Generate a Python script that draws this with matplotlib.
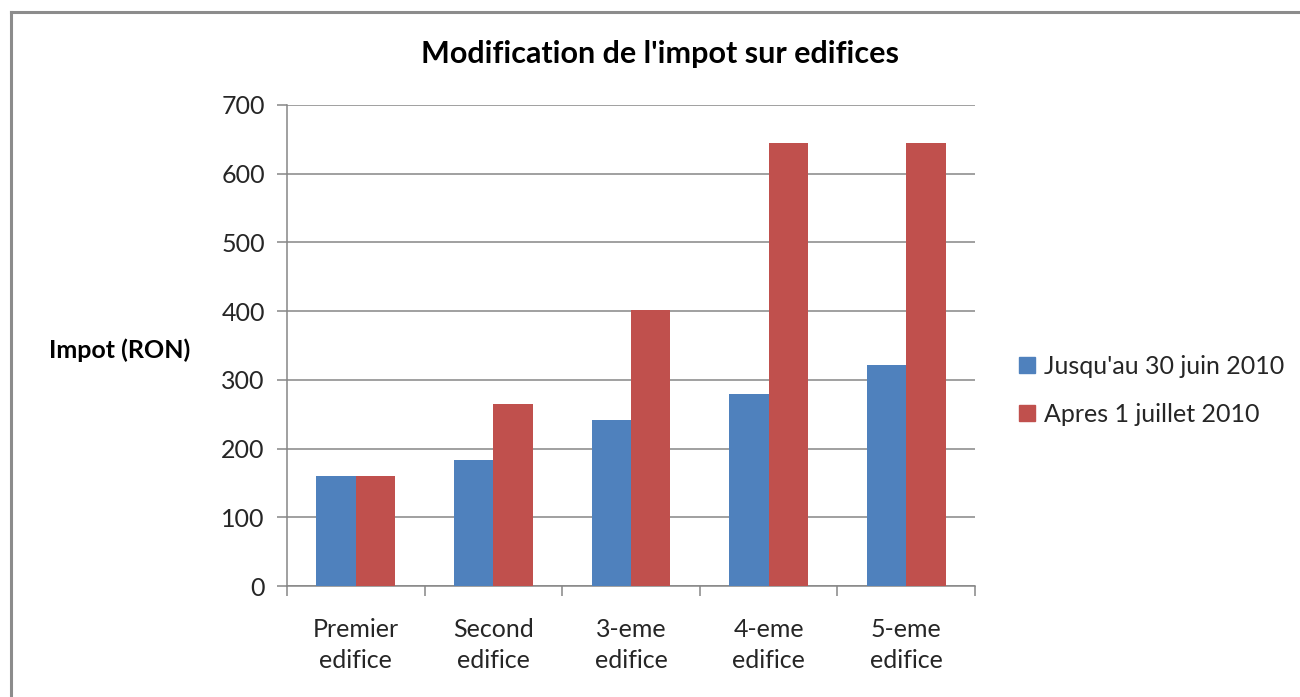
import matplotlib
matplotlib.use("Agg")
import matplotlib.pyplot as plt
import numpy as np
from matplotlib.lines import Line2D

categories = ["Premier\nedifice", "Second\nedifice", "3-eme\nedifice", "4-eme\nedifice", "5-eme\nedifice"]
before = [160, 183, 241, 280, 321]
after = [160, 265, 401, 645, 645]
series_names = ["Jusqu'au 30 juin 2010", "Apres 1 juillet 2010"]
yticks = [0, 100, 200, 300, 400, 500, 600, 700]

plt.rcParams['font.family'] = ['Lato', 'DejaVu Sans']
BLUE = "#4F81BD"
RED = "#C0504D"
GRAY = "#868686"
TXT = "#262626"

fig = plt.figure(figsize=(13, 6.97), dpi=100)
ax = fig.add_axes([287/1300, 1-586/697, (975-287)/1300, (586-105)/697])

x = np.arange(len(categories))
w = 0.287
ax.bar(x - w/2, before, w, color=BLUE, label=series_names[0], zorder=3)
ax.bar(x + w/2, after, w, color=RED, label=series_names[1], zorder=3)

ax.set_xlim(-0.5, len(categories) - 0.5)
ax.set_ylim(0, 700)
ax.set_yticks(yticks)
ax.set_yticklabels([str(v) for v in yticks], fontsize=18, color=TXT)
ax.yaxis.grid(True, color=GRAY, linewidth=1.1, zorder=0)
ax.set_axisbelow(True)

ax.set_xticks(x)
ax.set_xticklabels(categories, fontsize=18, color=TXT, linespacing=1.45)
ax.tick_params(axis='x', which='major', length=0, pad=23)
ax.set_xticks(np.arange(-0.5, len(categories), 1.0), minor=True)
ax.tick_params(axis='x', which='minor', length=7, width=1.1, color=GRAY, direction='out')
ax.tick_params(axis='y', length=7, width=1.1, color=GRAY, direction='out', pad=9)

for s in ['top', 'right']:
    ax.spines[s].set_visible(False)
for s in ['left', 'bottom']:
    ax.spines[s].set_color(GRAY)
    ax.spines[s].set_linewidth(1.1)

fig.text(120/1300, 1-350/697, "Impot (RON)", fontsize=18, fontweight='bold',
         ha='center', va='center', color='black')
fig.text(660/1300, 1-54/697, "Modification de l'impot sur edifices", fontsize=22,
         fontweight='bold', ha='center', va='center', color='black')

handles = [Line2D([], [], marker='s', linestyle='none', markersize=11, color=BLUE),
           Line2D([], [], marker='s', linestyle='none', markersize=11, color=RED)]
fig.legend(handles, series_names, loc='center left', bbox_to_anchor=(996/1300, 1-390/697),
           frameon=False, fontsize=18, handlelength=0.7, handletextpad=0.3,
           labelspacing=1.0, labelcolor=TXT)

# figure frame (left and top edges visible)
fig.add_artist(Line2D([11/1300, 11/1300], [0, 1-12/697], color="#8c8c8c", linewidth=2.2))
fig.add_artist(Line2D([11/1300, 1], [1-12/697, 1-12/697], color="#8c8c8c", linewidth=2.2))

fig.savefig("out.png", dpi=100)
